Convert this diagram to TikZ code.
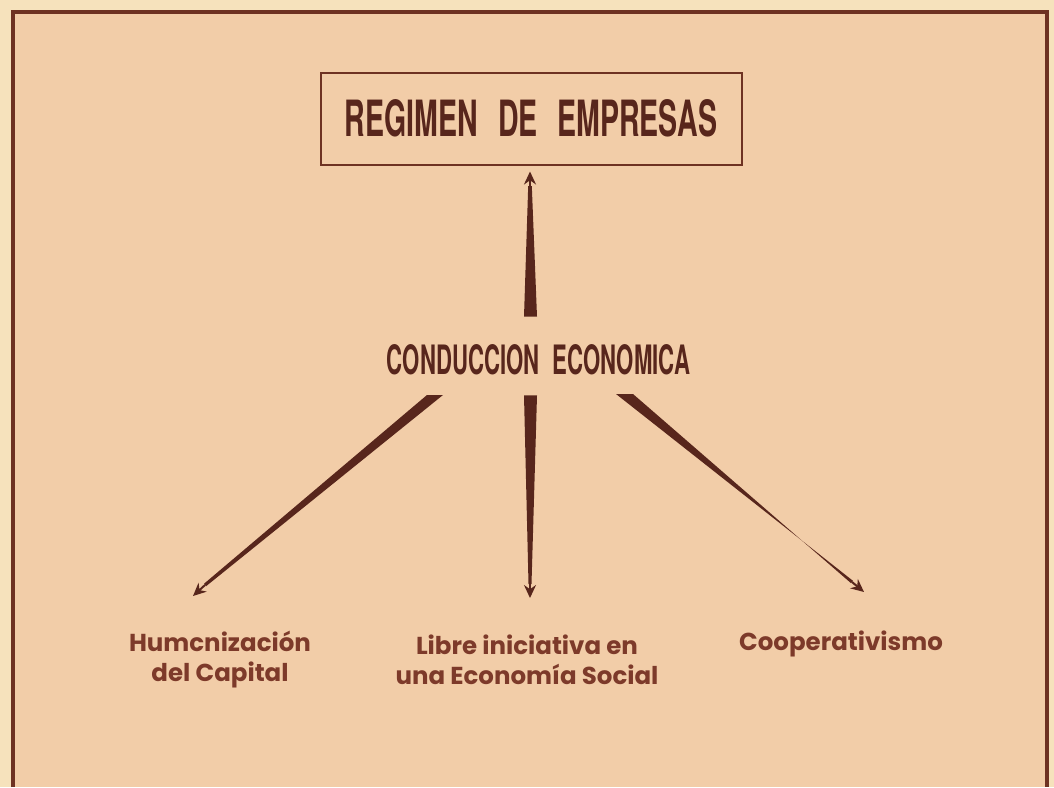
\documentclass[tikz,border=0pt]{standalone}
\usepackage{fontspec}
\usepackage{graphicx}
\setmainfont{Poppins}
\newfontfamily\headfont{TeX Gyre Heros}
\usetikzlibrary{arrows.meta,calc}
\definecolor{paper}{RGB}{242,205,168}
\definecolor{paperlight}{RGB}{246,226,188}
\definecolor{ink}{RGB}{110,50,34}
\definecolor{inkdark}{RGB}{88,38,28}
\definecolor{textink}{RGB}{125,58,42}
\tikzset{
  frame/.style={draw=ink, line width=3.5pt},
  headbox/.style={draw=ink, line width=2pt, minimum width=421pt, minimum height=92pt, inner sep=0pt, text=inkdark},
  headtext/.style={inner sep=0pt, text=inkdark},
  leaf/.style={align=center, text=textink, font=\bfseries\fontsize{24.5}{30}\selectfont, inner sep=0pt},
  taper/.style={fill=inkdark},
  tip/.style={draw=inkdark, line width=2pt, -{Stealth[length=13pt,width=12pt]}}
}
\begin{document}
\begin{tikzpicture}[x=1pt,y=-1pt]
\useasboundingbox (0,0) rectangle (1054,787);
\fill[paperlight] (0,0) rectangle (1054,787);
\fill[paper] (13,12) rectangle (1047,787);
\draw[frame] (13,787) -- (13,12) -- (1047,12) -- (1047,787);

\node[headbox] (reg) at (531,118.5) {\resizebox{372pt}{37pt}{\headfont\bfseries REGIMEN\hspace{0.7em}DE\hspace{0.7em}EMPRESAS}};
\node[headtext] (cond) at (538.5,360) {\resizebox{303pt}{30pt}{\headfont\bfseries CONDUCCION\hspace{0.6em}ECONOMICA}};

\node[leaf] (hum) at (220,660) {Humcnización\\del Capital};
\node[leaf] (lib) at (527,660) {Libre iniciativa en\\una Economía Social};
\node[leaf, anchor=north] (coop) at (841,631) {Cooperativismo};

% up arrow
\coordinate (u1) at ($(cond.north)+(-14.5,-28)$);
\coordinate (u2) at ($(cond.north)+(-1.5,-28)$);
\coordinate (ue) at (530,186);
\coordinate (ut) at ($(reg.south)+(-1,6)$);
\fill[taper] (u1) -- (u2) -- ($(ue)+(1.8,0)$) -- ($(ue)-(1.8,0)$) -- cycle;
\draw[tip] (ue) -- (ut);

% down arrow
\coordinate (d1) at ($(cond.south)+(-14.5,20)$);
\coordinate (d2) at ($(cond.south)+(-1.5,20)$);
\coordinate (de) at (530,584);
\coordinate (dt) at (530,598);
\fill[taper] (d1) -- (d2) -- ($(de)+(1.5,0)$) -- ($(de)-(1.5,0)$) -- cycle;
\draw[tip] (de) -- (dt);

% left arrow
\coordinate (l1) at (427,395);
\coordinate (l2) at (443,395);
\coordinate (le) at (205,585);
\coordinate (lt) at (193,596);
\fill[taper] (l1) -- (l2) -- ($(le)+(1,1.25)$) -- ($(le)-(1,1.25)$) -- cycle;
\draw[tip] (le) -- (lt);

% right arrow
\coordinate (r1) at (616,394);
\coordinate (r2) at (633,394);
\coordinate (re) at (852,582);
\coordinate (rt) at (864,592);
\fill[taper] (r1) -- (r2) -- ($(re)+(-0.95,1.2)$) -- ($(re)-(-0.95,1.2)$) -- cycle;
\draw[tip] (re) -- (rt);
\end{tikzpicture}
\end{document}
